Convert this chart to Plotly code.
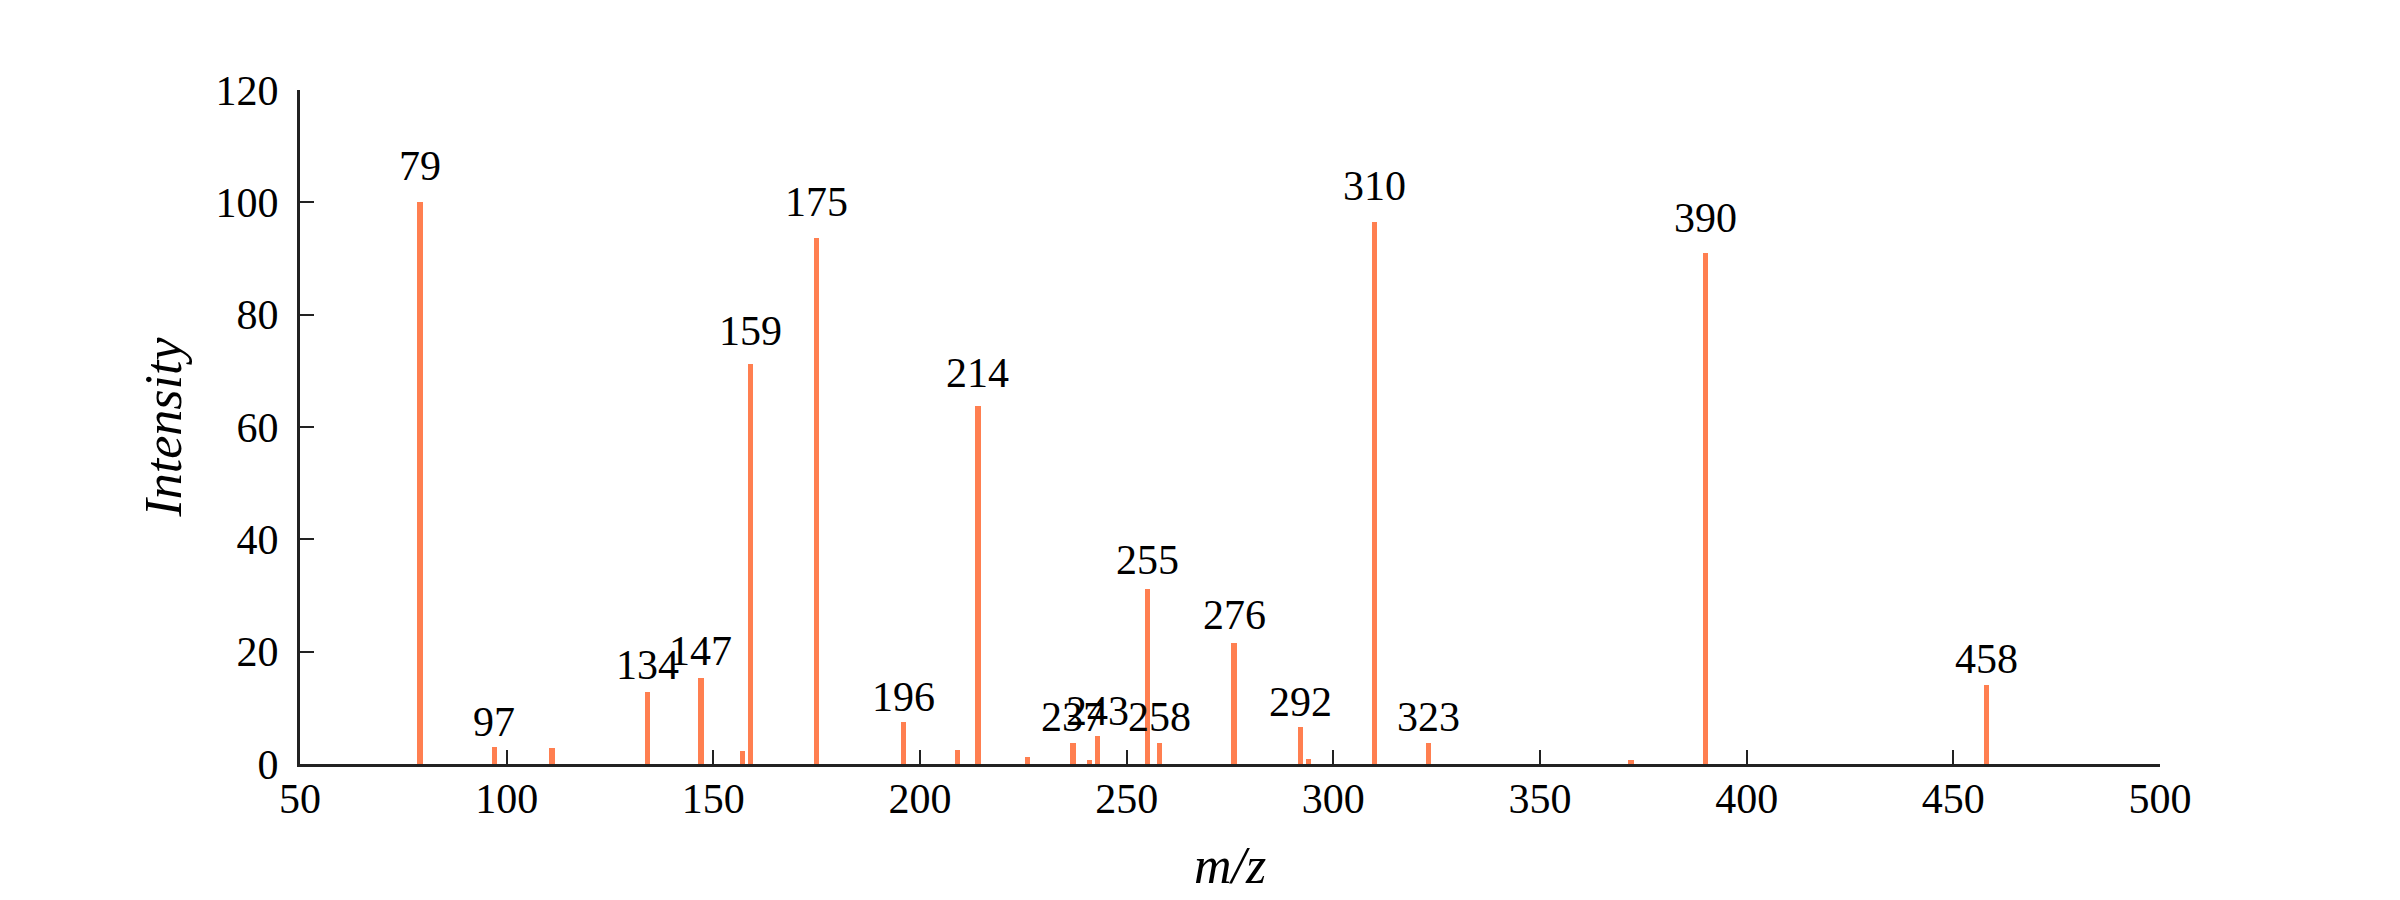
import plotly.graph_objects as go

# m/z peaks and relative intensities
mz = [79, 97, 111, 134, 147, 157, 159, 175, 196, 209, 214, 226, 237, 241, 243,
      255, 258, 276, 292, 294, 310, 323, 372, 390, 458]
intensity = [100, 3.0, 2.8, 12.9, 15.4, 2.3, 71.2, 93.7, 7.4, 2.5, 63.8, 1.2, 3.8, 0.8, 4.9,
             31.2, 3.8, 21.6, 6.5, 0.9, 96.5, 3.8, 0.8, 91.0, 14.0]
labeled = [79, 97, 134, 147, 159, 175, 196, 214, 237, 243, 255, 258, 276, 292,
           310, 323, 390, 458]

x_ticks = [50, 100, 150, 200, 250, 300, 350, 400, 450, 500]
y_ticks = [0, 20, 40, 60, 80, 100, 120]

FONT = "Liberation Serif"
BAR_COLOR = "#FF7F50"
LABEL_FACTOR = 1.02  # labels sit slightly above each peak, proportional to its height

fig = go.Figure()
fig.add_trace(go.Bar(x=mz, y=intensity, width=1.3, marker_color=BAR_COLOR,
                     marker_line_width=0, hoverinfo="x+y"))

for m, v in zip(mz, intensity):
    if m in labeled:
        fig.add_annotation(x=m, y=v * LABEL_FACTOR, text=str(m), showarrow=False,
                           xanchor="center", yanchor="bottom", yshift=0,
                           font=dict(family=FONT, size=42, color="black"))

axis_common = dict(showgrid=False, zeroline=False, showline=True, linewidth=3,
                   linecolor="#222222", ticks="inside", ticklen=14, tickwidth=2,
                   tickcolor="#222222", tickfont=dict(family=FONT, size=42, color="black"))

fig.update_xaxes(range=[50, 500], tickvals=x_ticks, ticktext=[str(t) for t in x_ticks],
                 ticklabelstandoff=-4,
                 title=dict(text="<i>m/z</i>", font=dict(family=FONT, size=52, color="black"),
                            standoff=26),
                 **axis_common)
fig.update_yaxes(range=[0, 120], tickvals=y_ticks, ticktext=[str(t) for t in y_ticks],
                 ticklabelstandoff=10,
                 title=dict(text="<i>Intensity</i>", font=dict(family=FONT, size=52, color="black"),
                            standoff=18),
                 **axis_common)

fig.update_layout(width=2400, height=900, autosize=False,
                  margin=dict(l=300, r=240, t=90, b=136),
                  plot_bgcolor="white", paper_bgcolor="white",
                  showlegend=False, bargap=0,
                  font=dict(family=FONT, color="black"))

fig.write_html("out.html", config={"displayModeBar": False},
               post_script="document.body.style.margin='0';")
